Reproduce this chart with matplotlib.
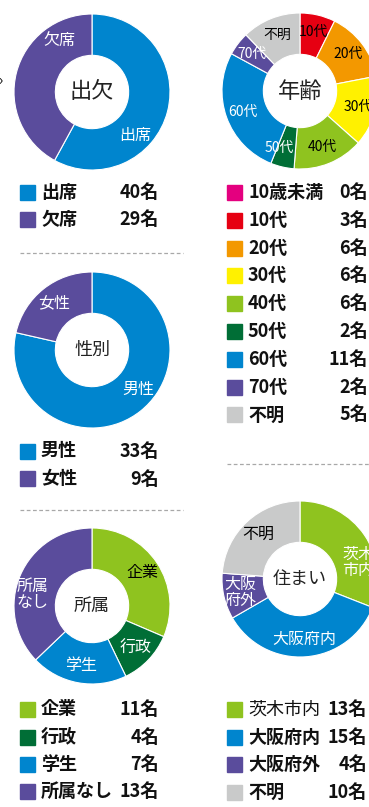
import matplotlib.pyplot as plt
import numpy as np

plt.rcParams["font.family"] = ["Noto Sans CJK JP", "DejaVu Sans"]

W, H = 369, 807

BLUE = "#0085CE"
PURPLE = "#5A4C9C"
GREEN = "#8FC31F"
DKGREEN = "#006E36"
GRAY = "#C9CACA"

# attendance
att_labels = ["出席", "欠席"]
att_values = [40, 29]
att_colors = [BLUE, PURPLE]

# gender
sex_labels = ["男性", "女性"]
sex_values = [33, 9]
sex_colors = [BLUE, PURPLE]

# affiliation
org_labels = ["企業", "行政", "学生", "所属なし"]
org_values = [11, 4, 7, 13]
org_colors = [GREEN, DKGREEN, BLUE, PURPLE]

# age groups
age_labels = ["10歳未満", "10代", "20代", "30代", "40代", "50代", "60代", "70代", "不明"]
age_values = [0, 3, 6, 6, 6, 2, 11, 2, 5]
age_colors = ["#E4007F", "#E60012", "#F39800", "#FFF100", GREEN, DKGREEN, BLUE, PURPLE, GRAY]

# residence
home_labels = ["茨木市内", "大阪府内", "大阪府外", "不明"]
home_values = [13, 15, 4, 10]
home_colors = [GREEN, BLUE, PURPLE, GRAY]

fig = plt.figure(figsize=(W / 100, H / 100), dpi=100)
fig.patch.set_facecolor("white")


def fx(x):
    return x / W


def fy(y):
    return 1 - y / H


def donut(cx, cy, title, values, colors, names, title_size=13, label_size=11.5,
          ring_text=None, text_colors=None, angle_fix=None, r=78):
    ax = fig.add_axes([fx(cx - r), fy(cy + r), 2 * r / W, 2 * r / H])
    wedges, _ = ax.pie(values, colors=colors, startangle=90, counterclock=False,
                       radius=1, wedgeprops=dict(width=0.53, edgecolor="white", linewidth=0.8))
    ax.set_xlim(-1, 1)
    ax.set_ylim(-1, 1)
    ax.set_aspect("equal")
    ax.axis("off")
    ax.text(0, 0, title, ha="center", va="center", fontsize=title_size, color="#222222")
    angle_fix = angle_fix or {}
    ring_text = ring_text or {}
    for i, (w, v) in enumerate(zip(wedges, values)):
        if v == 0:
            continue
        ang = angle_fix.get(i, (w.theta1 + w.theta2) / 2)
        a = np.deg2rad(ang)
        rr = 0.78
        ax.text(rr * np.cos(a), rr * np.sin(a), ring_text.get(i, names[i]),
                ha="center", va="center", fontsize=label_size, linespacing=0.95,
                color=text_colors[i])
    return ax


def legend(x0, x_val, rows_y, names, values, colors, weights=None):
    for i, (y, n, v, c) in enumerate(zip(rows_y, names, values, colors)):
        fig.patches.append(plt.Rectangle((fx(x0), fy(y + 7.5)), 15 / W, 15 / H,
                                         color=c, transform=fig.transFigure, figure=fig))
        wt = weights[i] if weights else "bold"
        fig.text(fx(x0 + 21), fy(y), n, ha="left", va="center",
                 fontsize=13, fontweight=wt, color="#111111")
        fig.text(fx(x_val), fy(y), f"{v}名", ha="right", va="center",
                 fontsize=13, fontweight="bold", color="#111111")


def dashed(x0, x1, y):
    fig.add_artist(plt.Line2D([fx(x0), fx(x1)], [fy(y), fy(y)], transform=fig.transFigure,
                              color="#A8A8A8", linewidth=0.9, linestyle=(0, (3, 2))))


# left column
donut(92, 92, "出欠", att_values, att_colors, att_labels, title_size=16,
      text_colors=["white", "white"], angle_fix={0: -45, 1: 122})
legend(20, 159, [192.5, 219.5], att_labels, att_values, att_colors)
dashed(20, 183, 253)

donut(92, 350, "性別", sex_values, sex_colors, sex_labels, title_size=13,
      text_colors=["white", "white"], angle_fix={0: -41})
legend(20, 159, [451, 479], sex_labels, sex_values, sex_colors)
dashed(20, 183, 510)

donut(92, 606, "所属", org_values, org_colors, org_labels, title_size=13,
      text_colors=["black", "white", "white", "white"],
      ring_text={3: "所属\nなし"}, angle_fix={3: 169})
legend(20, 159, [709, 737, 764.5, 791], org_labels, org_values, org_colors)

# right column
donut(300, 91, "年齢", age_values, age_colors, age_labels, title_size=16, label_size=10,
      text_colors=["black", "black", "black", "black", "black", "white", "white", "white", "black"],
      angle_fix={5: -110})
legend(227, 368, [192.5 + 27.8 * i for i in range(len(age_labels))],
       age_labels, age_values, age_colors)
dashed(227, 369, 464)

donut(300, 579, "住まい", home_values, home_colors, home_labels, title_size=13,
      text_colors=["white", "white", "white", "black"],
      ring_text={0: "茨木\n市内", 2: "大阪\n府外"}, angle_fix={0: 16})
legend(227, 367, [709.5, 737.5, 764.5, 792.5], home_labels, home_values, home_colors,
       weights=["normal", "bold", "bold", "bold"])

# partial arrow at the left edge
fig.text(fx(0), fy(80), "›", ha="center", va="center", fontsize=10, color="black")

fig.savefig("out.png", dpi=100, facecolor="white")
